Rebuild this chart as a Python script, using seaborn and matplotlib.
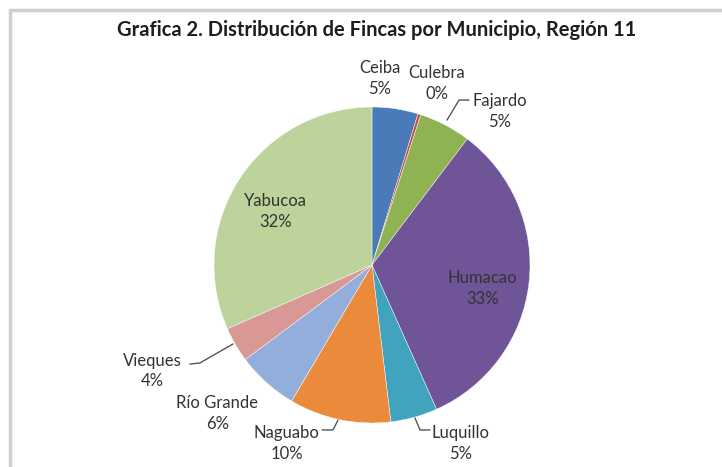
import matplotlib.pyplot as plt
import matplotlib.patches as patches
import seaborn as sns

#%% data
municipios = ['Ceiba', 'Culebra', 'Fajardo', 'Humacao', 'Luquillo',
              'Naguabo', 'Río Grande', 'Vieques', 'Yabucoa']
porcientos = [4.7, 0.3, 5.3, 33.0, 4.8, 10.4, 6.3, 3.6, 31.6]
colores = ['#4a7ab8', '#c0504d', '#8fb352', '#6f5497', '#41a3be',
           '#ec8a3c', '#93aedb', '#d99796', '#bdd39c']
titulo = 'Grafica 2. Distribución de Fincas por Municipio, Región 11'

#%% layout (label centres / leader lines, in pie radius units)
label_pos = {
    'Ceiba': (0.05, 1.18), 'Culebra': (0.41, 1.15), 'Fajardo': (0.81, 0.97),
    'Humacao': (0.70, -0.15), 'Luquillo': (0.56, -1.13), 'Naguabo': (-0.54, -1.13),
    'Río Grande': (-0.98, -0.94), 'Vieques': (-1.39, -0.67), 'Yabucoa': (-0.61, 0.34),
}
leaders = {
    'Fajardo': [(0.475, 0.918), (0.551, 1.044), (0.614, 1.044)],
    'Vieques': [(-1.152, -0.627), (-1.089, -0.620), (-0.880, -0.500)],
    'Naguabo': [(-0.316, -1.044), (-0.247, -1.044), (-0.215, -0.981)],
    'Luquillo': [(0.272, -0.968), (0.304, -1.044), (0.367, -1.044)],
}


def main():
    sns.set_theme(style='white')
    plt.rcParams['font.family'] = ['Lato', 'DejaVu Sans']

    W, H = 722, 467
    fig = plt.figure(figsize=(W / 100, H / 100), dpi=100)
    fig.patch.set_facecolor('white')

    # pie centre (372, 265) px, radius 158 px
    cx, cy, r = 372, 265, 158
    ax = fig.add_axes([(cx - r) / W, 1 - (cy + r) / H, 2 * r / W, 2 * r / H])
    ax.pie(porcientos, colors=colores, startangle=90, counterclock=False,
           radius=1, wedgeprops=dict(linewidth=0.3, edgecolor='white'))
    ax.set_xlim(-1, 1)
    ax.set_ylim(-1, 1)
    ax.set_aspect('equal')
    ax.axis('off')

    for nombre, val in zip(municipios, porcientos):
        x, y = label_pos[nombre]
        ax.text(x, y, f'{nombre}\n{val:.0f}%', ha='center', va='center',
                fontsize=12, color='#333333', linespacing=1.35, clip_on=False)

    for nombre, pts in leaders.items():
        xs = [p[0] for p in pts]
        ys = [p[1] for p in pts]
        ax.plot(xs, ys, color='#555555', lw=1, clip_on=False)

    fig.text(377 / W, 1 - 30 / H, titulo, ha='center', va='center',
             fontsize=14.5, fontweight='bold', color='#1e1e1e')

    border = patches.Rectangle((10 / W, -0.1), 1.2, 1 - 10 / H + 0.1,
                               transform=fig.transFigure, fill=False,
                               edgecolor='#cfcfcf', lw=2.5, clip_on=False)
    fig.patches.append(border)

    fig.savefig('out.png', dpi=100)


if __name__ == '__main__':
    main()
